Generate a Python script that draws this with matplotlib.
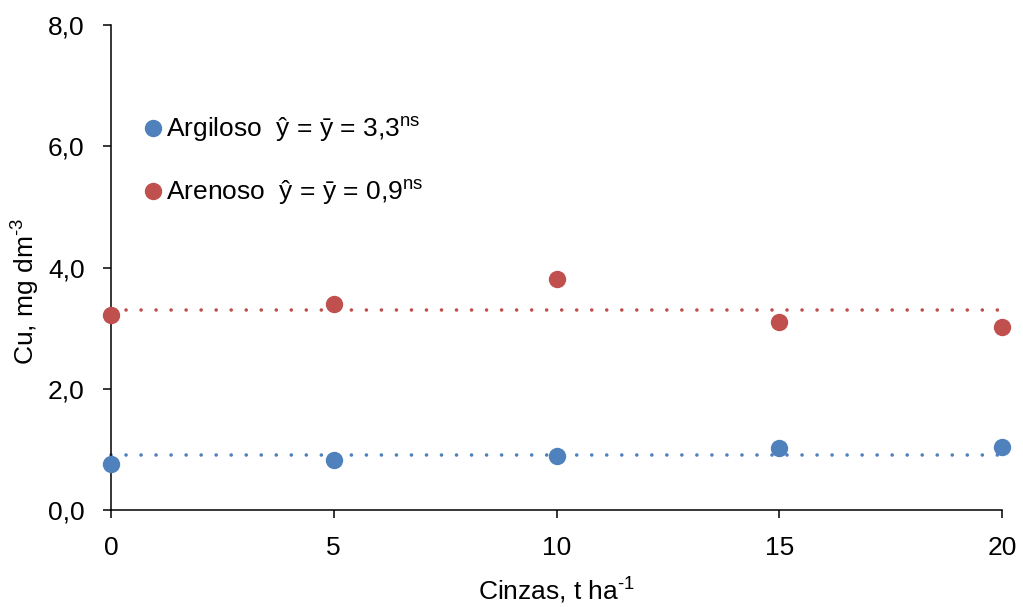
import numpy as np
import matplotlib
matplotlib.use('Agg')
import matplotlib.pyplot as plt

plt.rcParams['font.family'] = ['Liberation Sans', 'DejaVu Sans']
plt.rcParams['mathtext.fontset'] = 'custom'
plt.rcParams['mathtext.rm'] = 'Liberation Sans'
plt.rcParams['mathtext.it'] = 'Liberation Sans'

# data
doses = [0, 5, 10, 15, 20]
argiloso = [0.76, 0.82, 0.89, 1.02, 1.04]
arenoso = [3.22, 3.40, 3.81, 3.10, 3.02]
mean_argiloso_line = 0.9
mean_arenoso_line = 3.3
labels = ['Argiloso  ŷ = ȳ = 3,3$^{\\mathrm{ns}}$',
          'Arenoso  ŷ = ȳ = 0,9$^{\\mathrm{ns}}$']
xticks = [0, 5, 10, 15, 20]
yticks = [0, 2, 4, 6, 8]

blue, red = '#4F81BD', '#C0504D'
fs = 19

fig = plt.figure(figsize=(10.23, 6.07), dpi=100)
ax = fig.add_axes([0.1085, 0.1598, 0.871, 0.799])

dots = (0, (0.01, 4.15))
ax.plot([doses[0], doses[-1]], [mean_arenoso_line] * 2, color=red, lw=2.6,
        linestyle=dots, dash_capstyle='round', clip_on=False)
ax.plot([doses[0], doses[-1]], [mean_argiloso_line] * 2, color=blue, lw=2.6,
        linestyle=dots, dash_capstyle='round', clip_on=False)

h1, = ax.plot(doses, argiloso, 'o', color=blue, ms=11.5, clip_on=False, zorder=3)
h2, = ax.plot(doses, arenoso, 'o', color=red, ms=11.5, clip_on=False, zorder=3)

ax.set_xlim(0, 20)
ax.set_ylim(0, 8)
ax.set_xticks(xticks)
ax.set_yticks(yticks)
ax.set_yticklabels([('%.1f' % v).replace('.', ',') for v in yticks])

for s in ['top', 'right']:
    ax.spines[s].set_visible(False)
for s in ['left', 'bottom']:
    ax.spines[s].set_linewidth(1.1)
ax.tick_params(direction='out', length=6, width=1.1, labelsize=fs)
ax.tick_params(axis='x', pad=13)
ax.tick_params(axis='y', pad=13)

ax.set_xlabel('Cinzas, t ha$^{\\text{-1}}$', fontsize=fs, labelpad=11)
ax.set_ylabel('Cu, mg dm$^{\\text{-3}}$', fontsize=fs, labelpad=4, y=0.45)

ax.legend([h1, h2], labels, loc='upper left', bbox_to_anchor=(0.032, 0.814),
          frameon=False, fontsize=fs, handletextpad=0.0, labelspacing=1.28,
          handlelength=1.0, borderaxespad=0, borderpad=0)

fig.savefig('out.png', dpi=100)
